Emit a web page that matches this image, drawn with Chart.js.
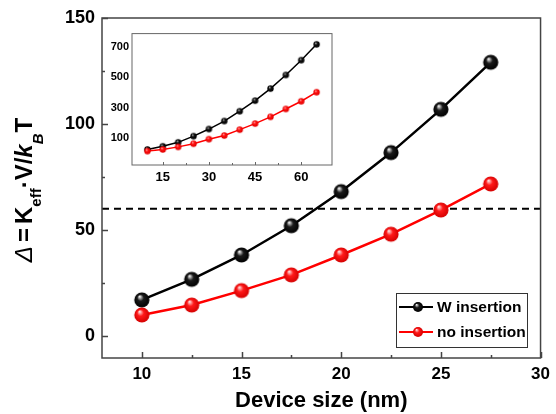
<!DOCTYPE html>
<html><head><meta charset="utf-8">
<script src="https://cdn.jsdelivr.net/npm/chart.js@4.4.1/dist/chart.umd.min.js"></script>
<style>
html,body{margin:0;padding:0;background:#fff}
#wrap{position:relative;width:556px;height:414px;overflow:hidden}
canvas{display:block}
#inset{position:absolute;left:100px;top:24px;pointer-events:none}
</style>
</head><body>
<div id="wrap"><canvas id="main" width="556" height="414"></canvas><canvas id="inset" width="240" height="166"></canvas></div>
<script>
// ---- data ----
const deviceSize = [10, 12.5, 15, 17.5, 20, 22.5, 25, 27.5];
const wInsertion = [17, 26.7, 38.2, 52, 68.1, 86.5, 106.9, 129.1];
const noInsertion = [9.9, 14.6, 21.4, 28.8, 38.2, 48, 59.4, 71.7];
const thresholdDelta = 60;
const seriesLabels = ['W insertion', 'no insertion'];
const insetSize = [10, 15, 20, 25, 30, 35, 40, 45, 50, 55, 60, 65];
const insetW = [23, 44, 70, 111, 158, 211, 276, 346, 426, 516, 614, 719];
const insetNo = [12, 23, 40, 61, 91, 115, 154, 194, 239, 291, 342, 402];
const mainXLabels = [10, 15, 20, 25, 30];
const mainYLabels = [0, 50, 100, 150];
const insetXLabels = [15, 30, 45, 60];
const insetYLabels = [100, 300, 500, 700];
const xAxisTitle = 'Device size (nm)';

const FONT = '"Liberation Sans", Arial, sans-serif';

function sphere(r, hi, base, dark) {
  const c = document.createElement('canvas');
  const s = Math.ceil(2 * r + 2);
  c.width = c.height = s;
  const x = c.getContext('2d');
  const cx = s / 2, cy = s / 2;
  const g = x.createRadialGradient(cx - r * 0.3, cy - r * 0.45, r * 0.05, cx, cy, r);
  g.addColorStop(0, hi);
  g.addColorStop(0.4, base);
  g.addColorStop(1, dark);
  x.fillStyle = g;
  x.beginPath(); x.arc(cx, cy, r, 0, Math.PI * 2); x.fill();
  return c;
}
const blackBall = sphere(7.6, '#f2f2f2', '#1a1a1a', '#000');
const redBall = sphere(7.6, '#ffe0e0', '#ff1a1a', '#d40000');
const blackBallS = sphere(5, '#eeeeee', '#1a1a1a', '#000');
const redBallS = sphere(5, '#ffe0e0', '#ff1a1a', '#d40000');
const blackDot = sphere(3.2, '#bbbbbb', '#111', '#000');
const redDot = sphere(3.2, '#ffaaaa', '#ff1010', '#e00000');

function isIn(arr, v) { return arr.some(a => Math.abs(a - v) < 1e-6); }

// frame + inward ticks
function frameTicks(opts) {
  return {
    id: 'frameTicks' + opts.name,
    afterDraw(chart) {
      const ctx = chart.ctx, a = chart.chartArea;
      ctx.save();
      ctx.strokeStyle = opts.color; ctx.lineWidth = opts.width;
      ctx.strokeRect(a.left, a.top, a.right - a.left, a.bottom - a.top);
      const xs = chart.scales.x, ys = chart.scales.y;
      ctx.beginPath();
      xs.ticks.forEach(t => {
        const v = t.value;
        if (Math.abs(v / opts.xStep - Math.round(v / opts.xStep)) > 1e-6) return;
        const px = Math.round(xs.getPixelForValue(v)) + 0.5;
        const len = isIn(opts.xLabels, v) ? opts.major : opts.minor;
        ctx.moveTo(px, a.bottom); ctx.lineTo(px, a.bottom - len);
      });
      if (opts.yStep) {
        ys.ticks.forEach(t => {
          const v = t.value;
          if (Math.abs(v / opts.yStep - Math.round(v / opts.yStep)) > 1e-6) return;
          const py = Math.round(ys.getPixelForValue(v)) + 0.5;
          const len = isIn(opts.yLabels, v) ? opts.major : opts.minor;
          ctx.moveTo(a.left, py); ctx.lineTo(a.left + len, py);
        });
      }
      ctx.stroke();
      ctx.restore();
    }
  };
}

const yTitlePlugin = {
  id: 'yTitle',
  afterDraw(chart) {
    const ctx = chart.ctx;
    const a = chart.chartArea;
    const big = 24, small = 15;
    const segs = [
      { t: '\u0394', f: `italic ${big}px ${FONT}`, dy: 0, gap: 4 },
      { t: '=', f: `bold ${big}px ${FONT}`, dy: 0, gap: 4 },
      { t: 'K', f: `bold ${big}px ${FONT}`, dy: 0, gap: 0 },
      { t: 'eff', f: `bold ${small}px ${FONT}`, dy: 9, gap: 0 },
      { t: '\u00B7V/', f: `bold ${big}px ${FONT}`, dy: 0, gap: 0 },
      { t: 'k', f: `italic bold ${big}px ${FONT}`, dy: 0, gap: 0 },
      { t: 'B', f: `italic bold ${small}px ${FONT}`, dy: 11, gap: 1 },
      { t: 'T', f: `bold ${big}px ${FONT}`, dy: 0, gap: 0 }
    ];
    ctx.save();
    let total = 0;
    segs.forEach(s => { ctx.font = s.f; s.w = ctx.measureText(s.t).width; total += s.w + s.gap; });
    ctx.translate(32, (a.top + a.bottom) / 2 + 2);
    ctx.rotate(-Math.PI / 2);
    ctx.fillStyle = '#000';
    ctx.textBaseline = 'alphabetic';
    ctx.textAlign = 'left';
    let x = -total / 2;
    segs.forEach(s => { ctx.font = s.f; ctx.fillText(s.t, x, s.dy); x += s.w + s.gap; });
    ctx.restore();
  }
};

const legendPlugin = {
  id: 'boxLegend',
  afterDraw(chart) {
    const ctx = chart.ctx;
    const ds = chart.data.datasets.filter(d => seriesLabels.includes(d.label));
    ctx.save();
    ctx.fillStyle = '#fff';
    ctx.fillRect(396, 293, 131, 54);
    ctx.strokeStyle = '#333'; ctx.lineWidth = 1;
    ctx.strokeRect(396.5, 293.5, 131, 54);
    ds.forEach((d, i) => {
      const y = 307 + i * 25;
      ctx.strokeStyle = d.borderColor; ctx.lineWidth = 2;
      ctx.beginPath(); ctx.moveTo(399, y); ctx.lineTo(433, y); ctx.stroke();
      const img = d.legendBall;
      ctx.drawImage(img, 418 - img.width / 2, y - img.height / 2);
      ctx.fillStyle = '#000';
      ctx.font = `bold 15.5px ${FONT}`;
      ctx.textBaseline = 'middle';
      ctx.fillText(d.label, 437, y + 1);
    });
    ctx.restore();
  }
};

const X_MIN = 8, X_MAX = 30, Y_MIN = -10.4, Y_MAX = 150;

new Chart(document.getElementById('main'), {
  type: 'line',
  data: {
    datasets: [
      {
        label: seriesLabels[0],
        data: deviceSize.map((x, i) => ({ x, y: wInsertion[i] })),
        borderColor: '#000', borderWidth: 2.5,
        pointStyle: blackBall, pointRadius: 8, legendBall: blackBallS,
        order: 2, tension: 0
      },
      {
        label: seriesLabels[1],
        data: deviceSize.map((x, i) => ({ x, y: noInsertion[i] })),
        borderColor: '#ff0000', borderWidth: 2.5,
        pointStyle: redBall, pointRadius: 8, legendBall: redBallS,
        order: 1, tension: 0
      },
      {
        label: 'threshold',
        data: [{ x: X_MIN, y: thresholdDelta }, { x: X_MAX, y: thresholdDelta }],
        borderColor: '#000', borderWidth: 1.8, borderDash: [7, 5],
        pointRadius: 0, order: 3
      }
    ]
  },
  options: {
    responsive: false, animation: false, devicePixelRatio: 1,
    layout: { padding: { left: 0, right: 10, top: 18, bottom: 0 } },
    plugins: { legend: { display: false }, tooltip: { enabled: false } },
    scales: {
      x: {
        type: 'linear', min: X_MIN, max: X_MAX,
        grid: { display: false, drawTicks: false },
        border: { display: false },
        ticks: {
          stepSize: 2.5, autoSkip: false, maxRotation: 0, padding: 6,
          color: '#000', font: { family: FONT, size: 17, weight: 'bold' },
          callback: v => isIn(mainXLabels, v) ? String(v) : ''
        },
        title: { display: true, text: xAxisTitle, color: '#000', padding: { top: 0, bottom: 0 },
          font: { family: FONT, size: 22, weight: 'bold' } },
        afterFit: s => { s.height = 56; }
      },
      y: {
        type: 'linear', min: Y_MIN, max: Y_MAX,
        grid: { display: false, drawTicks: false },
        border: { display: false },
        ticks: {
          stepSize: 25, autoSkip: false, padding: 7,
          color: '#000', font: { family: FONT, size: 18, weight: 'bold' },
          callback: v => isIn(mainYLabels, v) ? String(v) : ''
        },
        afterFit: s => { s.width = 102; }
      }
    }
  },
  plugins: [frameTicks({ name: 'main', color: '#444', width: 1.5, xStep: 2.5, yStep: 25,
    xLabels: mainXLabels, yLabels: mainYLabels, major: 6, minor: 3 }), yTitlePlugin, legendPlugin]
});

new Chart(document.getElementById('inset'), {
  type: 'line',
  data: {
    datasets: [
      {
        label: seriesLabels[0],
        data: insetSize.map((x, i) => ({ x, y: insetW[i] })),
        borderColor: '#000', borderWidth: 1.5,
        pointStyle: blackDot, pointRadius: 3, order: 2, tension: 0
      },
      {
        label: seriesLabels[1],
        data: insetSize.map((x, i) => ({ x, y: insetNo[i] })),
        borderColor: '#ff0000', borderWidth: 1.5,
        pointStyle: redDot, pointRadius: 3, order: 1, tension: 0
      }
    ]
  },
  options: {
    responsive: false, animation: false, devicePixelRatio: 1,
    layout: { padding: { left: 0, right: 8, top: 6, bottom: 0 } },
    plugins: { legend: { display: false }, tooltip: { enabled: false } },
    scales: {
      x: {
        type: 'linear', min: 5, max: 70,
        grid: { display: false, drawTicks: false },
        border: { display: false },
        ticks: {
          stepSize: 7.5, autoSkip: false, maxRotation: 0, padding: 5,
          color: '#000', font: { family: FONT, size: 13, weight: 'bold' },
          callback: v => isIn(insetXLabels, v) ? String(v) : ''
        },
        afterFit: s => { s.height = 25; }
      },
      y: {
        type: 'linear', min: -80, max: 790,
        grid: { display: false, drawTicks: false },
        border: { display: false },
        ticks: {
          stepSize: 100, autoSkip: false, padding: 3,
          color: '#000', font: { family: FONT, size: 11, weight: 'bold' },
          callback: v => isIn(insetYLabels, v) ? String(v) : ''
        },
        afterFit: s => { s.width = 32; }
      }
    }
  },
  plugins: [frameTicks({ name: 'inset', color: '#666', width: 1, xStep: 7.5, yStep: 0,
    xLabels: insetXLabels, yLabels: insetYLabels, major: 3, minor: 2 })]
});
</script>
</body></html>
